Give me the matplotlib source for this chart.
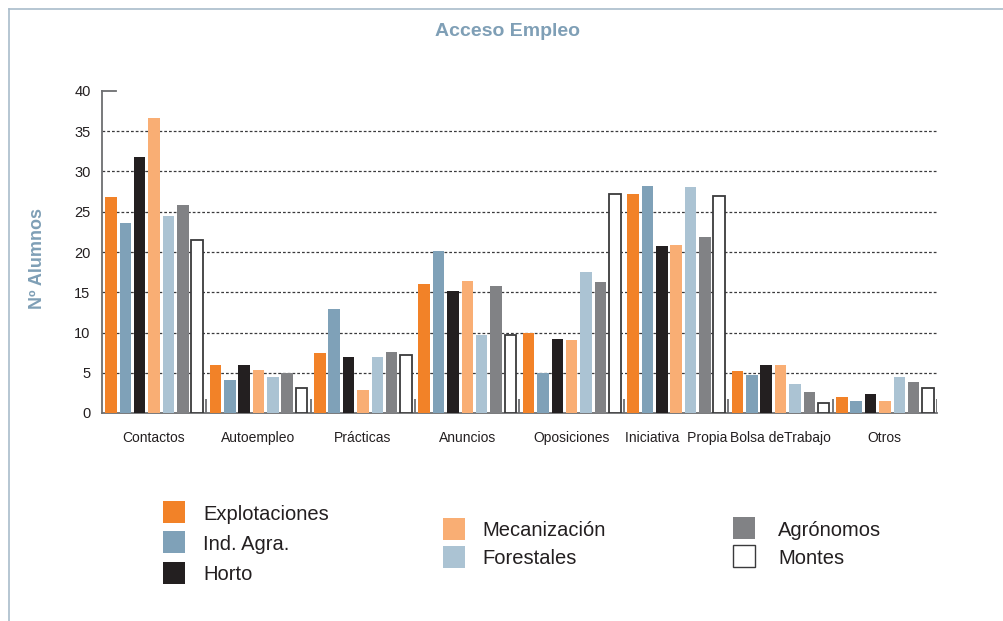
import numpy as np
import matplotlib
matplotlib.use("Agg")
import matplotlib.pyplot as plt
from matplotlib.patches import Rectangle
from matplotlib.lines import Line2D

categorias = ["Contactos", "Autoempleo", "Prácticas", "Anuncios", "Oposiciones",
              "Iniciativa  Propia", "Bolsa deTrabajo", "Otros"]
series = ["Explotaciones", "Ind. Agra.", "Horto", "Mecanización", "Forestales",
          "Agrónomos", "Montes"]

explotaciones = [26.8, 6.0, 7.4, 16.0, 9.9, 27.2, 5.2, 2.0]
ind_agra = [23.6, 4.1, 12.9, 20.1, 5.0, 28.2, 4.75, 1.5]
horto = [31.8, 6.0, 6.9, 15.2, 9.2, 20.7, 6.0, 2.4]
mecanizacion = [36.6, 5.4, 2.8, 16.4, 9.1, 20.9, 6.0, 1.5]
forestales = [24.5, 4.5, 6.9, 9.7, 17.5, 28.1, 3.6, 4.5]
agronomos = [25.8, 5.0, 7.6, 15.8, 16.3, 21.9, 2.6, 3.9]
montes = [21.5, 3.1, 7.2, 9.7, 27.2, 26.9, 1.2, 3.1]

valores = [explotaciones, ind_agra, horto, mecanizacion, forestales, agronomos, montes]
colores = ["#f28228", "#7fa1b8", "#231f20", "#f9ae74", "#abc3d3", "#818285", "white"]
yticks = [0, 5, 10, 15, 20, 25, 30, 35, 40]

azul = "#7f9fb6"
eje = "#6d6e71"

plt.rcParams["font.family"] = ["Liberation Sans", "DejaVu Sans"]

fig = plt.figure(figsize=(10.04, 6.21), dpi=100)

# marco de la ficha
fig.add_artist(Line2D([9 / 1004, 1], [1 - 9 / 621, 1 - 9 / 621], color="#a9bccb", lw=1.2))
fig.add_artist(Line2D([9 / 1004, 9 / 1004], [0, 1 - 9 / 621], color="#a9bccb", lw=1.2))

ax = fig.add_axes([101.7 / 1004, 1 - 413 / 621, (937 - 101.7) / 1004, (413 - 91) / 621])

paso = 0.1375
ancho = 0.11
inicio = 0.034 + ancho / 2
x = np.arange(len(categorias))
for i, (vals, col) in enumerate(zip(valores, colores)):
    ec = "#3a3a3c" if col == "white" else col
    lw = 1.3 if col == "white" else 0
    ax.bar(x + inicio + i * paso, vals, width=ancho, color=col, edgecolor=ec,
           linewidth=lw, zorder=3)

ax.set_xlim(0, len(categorias))
ax.set_ylim(0, 40)

for y in yticks[1:-1]:
    ax.axhline(y, color="#3a3a3c", lw=0.9, ls=(0, (2.2, 1.6)), zorder=1)

# separadores entre grupos
ax.vlines(np.arange(1, len(categorias) + 1), 0, 1.7, color=eje, lw=1.3, zorder=4)
ax.plot([0, 0.14], [40, 40], color=eje, lw=1.3, clip_on=False, zorder=4)

for s in ["top", "right"]:
    ax.spines[s].set_visible(False)
for s in ["left", "bottom"]:
    ax.spines[s].set_color(eje)
    ax.spines[s].set_linewidth(1.3)

ax.set_yticks(yticks)
ax.set_yticklabels([str(v) for v in yticks], fontsize=10.5, color="#231f20")
ax.set_xticks(x + 0.5)
ax.set_xticklabels(categorias, fontsize=10, color="#231f20")
ax.tick_params(axis="y", length=0, pad=8)
ax.tick_params(axis="x", length=0, pad=13)

fig.text(508 / 1004, 1 - 31 / 621, "Acceso Empleo", ha="center", va="center",
         fontsize=14, fontweight="bold", color=azul)
fig.text(37 / 1004, 1 - 258 / 621, "Nº Alumnos", ha="center", va="center",
         rotation=90, fontsize=13, fontweight="bold", color=azul)

# leyenda en tres columnas
posiciones = [(163, 512), (163, 542), (163, 573), (443, 529), (443, 557), (733, 528), (733, 556)]
texto_x = [203, 203, 203, 482, 482, 778, 778]
for nombre, col, (px, py), tx in zip(series, colores, posiciones, texto_x):
    ec = "#3a3a3c" if col == "white" else col
    fig.add_artist(Rectangle((px / 1004, 1 - (py + 11) / 621), 22 / 1004, 22 / 621,
                             facecolor=col, edgecolor=ec, lw=1.0 if col == "white" else 0))
    fig.text(tx / 1004, 1 - (py + 2) / 621, nombre, ha="left", va="center",
             fontsize=14.5, color="#231f20")

fig.savefig("out.png", dpi=100)
